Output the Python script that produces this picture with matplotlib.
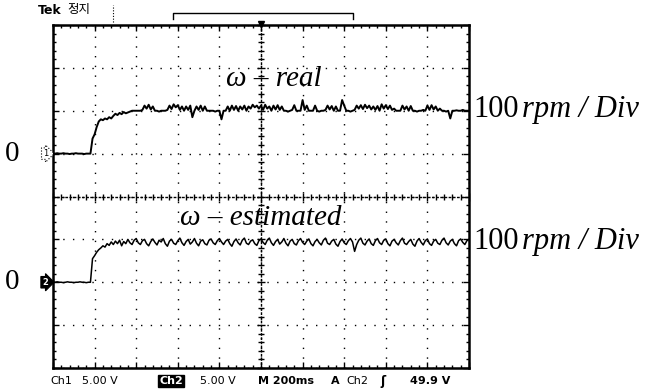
import numpy as np
import matplotlib
matplotlib.use("Agg")
import matplotlib.pyplot as plt
from matplotlib.ticker import MultipleLocator

# time base: 10 divisions, one sample every 0.05 div
t = np.arange(0, 201) * 0.05

# ch1 - measured speed (div units), 20 samples per division
ch1_real = [
    1.0, 1.0, 1.01, 1.0, 1.0, 1.01, 1.0, 1.0, 0.99, 1.0, 1.0, 1.01, 1.0, 1.0, 1.0, 0.99, 1.0, 1.0, 1.0, 1.35,
    1.45, 1.62, 1.75, 1.8, 1.78, 1.82, 1.8, 1.85, 1.82, 1.88, 1.93, 1.9, 1.95, 1.92, 1.97, 1.94, 1.96, 1.98, 2.0, 2.0,
    2.0, 2.0, 2.0, 2.02, 2.12, 2.05, 2.14, 2.03, 2.1, 2.0, 2.0, 1.98, 2.0, 2.0, 2.0, 2.02, 2.12, 2.04, 2.15, 2.08,
    2.13, 2.02, 2.1, 2.0, 2.1, 2.02, 2.12, 1.85, 2.0, 2.1, 2.02, 2.12, 2.0, 2.1, 2.0, 2.0, 2.0, 2.0, 1.98, 2.0,
    2.0, 1.8, 2.0, 2.0, 2.1, 2.0, 2.12, 2.02, 2.11, 2.0, 2.1, 2.03, 2.12, 2.0, 2.1, 2.05, 2.14, 2.08, 2.12, 2.05,
    2.12, 2.02, 2.14, 2.05, 2.1, 2.0, 2.12, 2.03, 2.13, 2.02, 2.1, 2.0, 2.0, 1.98, 2.0, 2.02, 2.13, 2.0, 2.0, 2.0,
    2.25, 2.02, 2.12, 2.0, 2.0, 2.0, 2.12, 2.0, 1.98, 2.0, 2.0, 2.02, 2.12, 2.03, 2.11, 2.0, 2.1, 2.0, 2.0, 2.25,
    2.12, 2.0, 2.0, 1.98, 2.0, 2.02, 2.12, 2.05, 2.13, 2.04, 2.14, 2.06, 2.12, 2.03, 2.1, 2.02, 2.11, 2.0, 2.15, 2.05,
    2.13, 2.04, 2.12, 2.02, 2.05, 2.0, 2.0, 2.0, 2.12, 2.03, 2.1, 2.0, 2.11, 2.0, 2.0, 1.98, 2.0, 2.0, 2.02, 2.0,
    2.12, 2.02, 2.13, 2.03, 2.1, 2.0, 2.05, 2.0, 2.0, 1.98, 2.0, 1.82, 2.0, 2.0, 2.01, 2.0, 2.0, 2.02, 2.0, 2.0,
    2.0,
]

# ch2 - estimated speed (div units)
ch2_est = [
    -2.0, -2.0, -1.99, -2.0, -2.0, -2.01, -2.0, -1.99, -2.0, -2.0, -2.01, -2.0, -2.0, -1.99, -2.0, -2.0, -2.01, -2.0, -2.0, -1.45,
    -1.38, -1.3, -1.24, -1.2, -1.15, -1.18, -1.1, -1.14, -1.06, -1.12, -1.04, -1.1, -1.02, -1.15, -1.05, -1.1, -1.0, -1.08, -1.12, -1.02,
    -0.98, -1.08, -1.12, -1.03, -1.0, -1.1, -1.15, -1.05, -0.99, -1.07, -1.13, -1.02, -1.06, -0.98, -1.1, -1.16, -1.04, -1.0, -1.09, -1.12,
    -1.03, -0.97, -1.08, -1.14, -1.05, -1.0, -1.11, -1.06, -0.98, -1.09, -1.15, -1.04, -1.01, -1.1, -1.13, -1.02, -0.99, -1.08, -1.12, -1.03,
    -0.98, -1.06, -1.12, -1.04, -1.0, -1.1, -1.16, -1.05, -0.99, -1.08, -1.13, -1.02, -0.97, -1.09, -1.12, -1.04, -1.01, -1.1, -1.14, -1.03,
    -0.99, -1.07, -1.12, -1.02, -0.97, -1.08, -1.14, -1.05, -1.0, -1.11, -1.06, -0.98, -1.09, -1.15, -1.04, -1.0, -1.1, -1.13, -1.03, -0.98,
    -1.07, -1.12, -1.04, -0.99, -1.1, -1.15, -1.05, -1.0, -1.08, -1.13, -1.02, -0.97, -1.09, -1.12, -1.04, -1.0, -1.11, -1.16, -1.05, -0.99,
    -1.08, -1.12, -1.03, -0.98, -1.06, -1.28, -1.12, -1.02, -0.97, -1.09, -1.13, -1.04, -0.99, -1.1, -1.14, -1.03, -0.98, -1.08, -1.12, -1.02,
    -0.99, -1.1, -1.15, -1.04, -1.0, -1.08, -1.13, -1.03, -0.97, -1.09, -1.12, -1.05, -1.0, -1.11, -1.16, -1.04, -0.98, -1.07, -1.13, -1.03,
    -0.99, -1.1, -1.14, -1.04, -1.0, -1.09, -1.12, -1.02, -0.97, -1.08, -1.13, -1.04, -1.0, -1.1, -1.15, -1.03, -0.99, -1.07, -1.12, -1.03,
    -1.0,
]

ch1_zero = 1.0
ch2_zero = -2.0

status_items = [("Ch1", 50), ("5.00 V", 82), ("5.00 V", 200), ("M 200ms", 258),
                ("A", 331), ("Ch2", 346), ("49.9 V", 410)]

W, H = 651, 390
fig = plt.figure(figsize=(W / 100, H / 100), dpi=100)
fig.patch.set_facecolor("white")

rect = [53 / W, 1 - 368 / H, 416 / W, 343 / H]
ax = fig.add_axes(rect)
ax.set_xlim(0, 10)
ax.set_ylim(-4, 4)

# graticule
ax.xaxis.set_major_locator(MultipleLocator(1))
ax.yaxis.set_major_locator(MultipleLocator(1))
ax.xaxis.set_minor_locator(MultipleLocator(0.2))
ax.yaxis.set_minor_locator(MultipleLocator(0.2))
ax.grid(True, which="major", color="black", linestyle=(0, (1, 6)), linewidth=1.0)
ax.tick_params(which="both", direction="in", top=True, right=True,
               labelbottom=False, labelleft=False, color="black")
ax.tick_params(which="major", length=4, width=1)
ax.tick_params(which="minor", length=2.5, width=1)
for s in ax.spines.values():
    s.set_linewidth(1.8)

# center crosshair with small ticks
ax2 = fig.add_axes(rect, sharex=ax, sharey=ax)
ax2.patch.set_alpha(0)
ax2.spines["top"].set_visible(False)
ax2.spines["right"].set_visible(False)
ax2.spines["left"].set_position(("data", 5))
ax2.spines["bottom"].set_position(("data", 0))
for k in ("left", "bottom"):
    ax2.spines[k].set_linestyle((0, (1, 2)))
    ax2.spines[k].set_linewidth(1.0)
ax2.tick_params(which="both", direction="inout", labelbottom=False, labelleft=False)
ax2.tick_params(which="major", length=6, width=1)
ax2.tick_params(which="minor", length=4, width=1)

ax.plot(t, ch1_real, color="black", lw=1.4, zorder=5)
ax.plot(t, ch2_est, color="black", lw=1.1, zorder=5)

# channel markers
ax.text(-0.12, ch1_zero, "1", ha="right", va="center", fontsize=6,
        family="DejaVu Sans",
        bbox=dict(boxstyle="rarrow,pad=0.15", fc="white", ec="black", ls=":", lw=0.8),
        clip_on=False)
ax.text(-0.12, ch2_zero, "2", ha="right", va="center", fontsize=6, color="white",
        weight="bold", family="DejaVu Sans",
        bbox=dict(boxstyle="rarrow,pad=0.15", fc="black", ec="black", lw=0.8),
        clip_on=False)

# trigger window bracket and header
ax.plot([2.88, 2.88, 7.21, 7.21], [4.13, 4.29, 4.29, 4.13], color="black", lw=1.0, clip_on=False)
ax.plot([1.44, 1.44], [4.08, 4.47], color="black", lw=0.8, ls=(0, (1, 1.5)), clip_on=False)
ax.plot([5.0], [4.02], marker="v", color="black", ms=4, clip_on=False)
fig.text(38 / W, 1 - 11 / H, "Tek", fontsize=9, weight="bold", family="DejaVu Sans",
         va="center")
fig.text(67 / W, 1 - 10 / H, "정지", fontsize=9, family=["Noto Sans CJK KR", "DejaVu Sans"],
         va="center")

# zero labels
serif = ["Liberation Serif", "DejaVu Serif"]
for y0 in (ch1_zero, ch2_zero):
    ax.text(-0.8, y0, "0", fontsize=21, family=serif, ha="right", va="center", clip_on=False)

# trace labels
ax.text(5.3, 2.75, "ω – real", fontsize=21, family=serif, style="italic",
        ha="center", va="center")
ax.text(5.0, -0.5, "ω – estimated", fontsize=21, family=serif, style="italic",
        ha="center", va="center")
for y0 in (2.02, -1.05):
    ax.text(10.1, y0, "100", fontsize=22, family=serif, ha="left", va="center", clip_on=False)
    ax.text(10.1 + 1.17, y0, "rpm / Div", fontsize=22, family=serif, style="italic",
            ha="left", va="center", clip_on=False)

# status bar
for label, px in status_items:
    fig.text(px / W, 1 - 381 / H, label, fontsize=8, family="DejaVu Sans",
             weight="bold" if label.startswith(("M", "A", "4")) else "normal", va="center")
fig.text(159 / W, 1 - 381 / H, "Ch2", fontsize=8, family="DejaVu Sans", weight="bold",
         color="white", va="center",
         bbox=dict(boxstyle="square,pad=0.1", fc="black", ec="black"))
fig.text(380 / W, 1 - 381 / H, "ʃ", fontsize=9, family="DejaVu Sans", weight="bold",
         va="center")

plt.savefig("out.png", dpi=100, facecolor="white")
